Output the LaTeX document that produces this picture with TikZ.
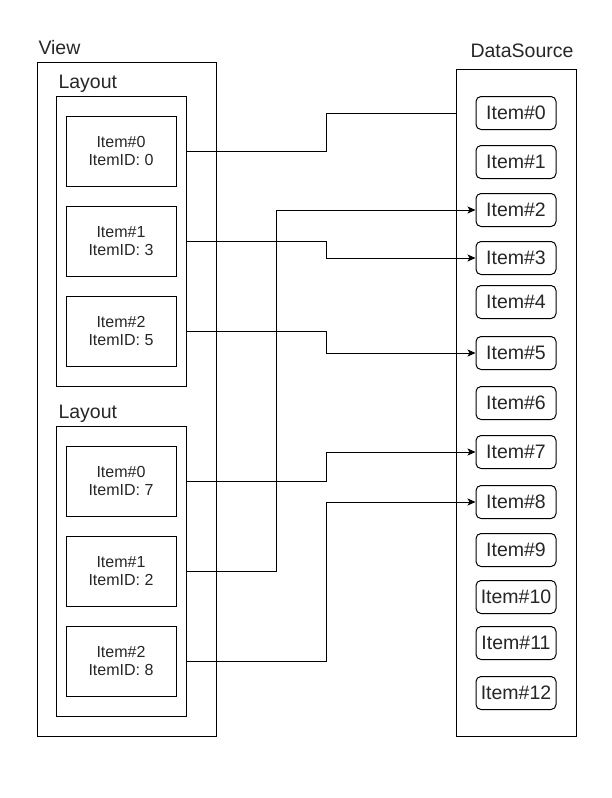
\documentclass[tikz,border=0pt]{standalone}
\usepackage{fontspec}
\setmainfont{Liberation Sans}
\usetikzlibrary{arrows.meta}
\begin{document}
\begin{tikzpicture}[x=1pt,y=-1pt,line width=1pt,
  bigfont/.style={font=\fontsize{19.5}{22}\selectfont},
  smallfont/.style={font=\fontsize{16}{18.7}\selectfont},
  frame/.style={draw=black,rectangle,inner sep=0pt},
  lbox/.style={frame,minimum width=110pt,minimum height=70pt,smallfont,align=center,text=black!85},
  dbox/.style={draw=black,rectangle,rounded corners=5pt,inner sep=0pt,minimum width=80pt,minimum height=33pt,bigfont,text=black!85},
  lab/.style={anchor=base west,bigfont,inner sep=0pt,text=black!85},
  conn/.style={draw=black,line width=1pt},
  arr/.style={conn,-{Stealth[length=8pt,width=7pt,inset=2pt]}}
]
\useasboundingbox (0,0) rectangle (612,798);
% View side
\node[lab] (viewlab) at (38,54) {View};
\node[frame,minimum width=179pt,minimum height=674pt] (view) at (126.5,399) {};
\node[lab] (lay1lab) at (58,88) {Layout};
\node[frame,minimum width=130pt,minimum height=290pt] (lay1) at (121,241) {};
\node[lab] (lay2lab) at (58,418) {Layout};
\node[frame,minimum width=130pt,minimum height=290pt] (lay2) at (121,571) {};
\node[lbox] (a0) at (121,151) {Item\#0\\ItemID: 0};
\node[lbox] (a1) at (121,241) {Item\#1\\ItemID: 3};
\node[lbox] (a2) at (121,331) {Item\#2\\ItemID: 5};
\node[lbox] (b0) at (121,481) {Item\#0\\ItemID: 7};
\node[lbox] (b1) at (121,571) {Item\#1\\ItemID: 2};
\node[lbox] (b2) at (121,661) {Item\#2\\ItemID: 8};
% DataSource side
\node[lab] (dslab) at (470,57) {DataSource};
\node[frame,minimum width=120pt,minimum height=667pt] (ds) at (516,402.5) {};
\foreach \i/\y in {0/113,1/162,2/210,3/258,4/302,5/353,6/403,7/452,8/502,9/550,10/597,11/643,12/693}{
  \node[dbox] (d\i) at (516,\y) {Item\#\i};
}
% column coordinates
\coordinate (colA) at (326,0);
\coordinate (colB) at (276,0);
% connectors
\draw[conn] (a0.east -| lay1.east) -- (a0.east -| colA) |- (d0.west -| ds.west);
\draw[arr] (a1.east -| lay1.east) -- (a1.east -| colA) |- (d3.west);
\draw[arr] (a2.east -| lay1.east) -- (a2.east -| colA) |- (d5.west);
\draw[arr] (b0.east -| lay2.east) -- (b0.east -| colA) |- (d7.west);
\draw[arr] (b1.east -| lay2.east) -- (b1.east -| colB) |- (d2.west);
\draw[arr] (b2.east -| lay2.east) -- (b2.east -| colA) |- (d8.west);
\end{tikzpicture}
\end{document}
